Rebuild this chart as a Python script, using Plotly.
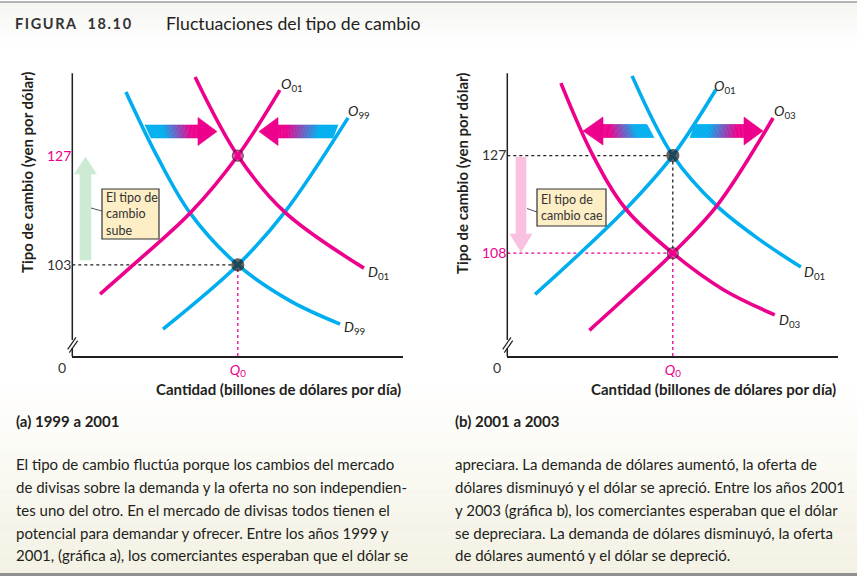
import plotly.graph_objects as go

W, H = 865, 576
BLUE = "#00aeef"
PINK = "#ec008c"
INK = "#231f20"
FONT = "Lato"

# ---------------- data (quantity index 0-100, yen per dollar) ----------------
# Panel (a) 1999 a 2001
a_D99_q = [16.2, 25.6, 35.6, 50.0, 65.8, 80.9]
a_D99_p = [141.0, 126.9, 114.4, 103.0, 95.1, 90.0]
a_O99_q = [27.4, 50.0, 64.2, 83.3]
a_O99_p = [88.9, 103.0, 114.6, 135.3]
a_O01_q = [8.4, 18.4, 35.6, 50.0, 62.7]
a_O01_p = [96.6, 103.0, 114.4, 127.0, 141.4]
a_D01_q = [37.1, 50.0, 64.2, 88.1]
a_D01_p = [144.3, 127.0, 114.6, 102.3]
a_eq_q = [50.0, 50.0]
a_eq_p = [103.0, 127.0]
a_yticks = [103, 127]
a_yrange = [83.0, 145.1]

# Panel (b) 2001 a 2003
b_D01_q = [37.7, 50.0, 63.3, 76.3, 88.7]
b_D01_p = [142.5, 127.0, 117.2, 110.6, 105.3]
b_O01_q = [8.4, 21.0, 35.8, 50.0, 63.0]
b_O01_p = [100.0, 107.4, 116.6, 127.0, 139.8]
b_D03_q = [16.2, 25.9, 35.8, 50.0, 65.3, 80.8]
b_D03_p = [141.1, 127.0, 116.6, 108.0, 100.9, 96.0]
b_O03_q = [24.8, 37.1, 50.0, 63.3, 80.3]
b_O03_p = [93.0, 100.2, 108.0, 117.2, 134.3]
b_eq_q = [50.0, 50.0]
b_eq_p = [127.0, 108.0]
b_yticks = [108, 127]
b_yrange = [88.0, 143.0]

Q0 = 50.0
xrange_ = [0, 100]

# ---------------- helpers ----------------
def P(x, y):
    return x / W, 1 - y / H

def path(pts):
    s = ""
    for i, (x, y) in enumerate(pts):
        px, py = P(x, y)
        s += ("M" if i == 0 else "L") + f"{px:.5f},{py:.5f} "
    return s + "Z"

def mix(c1, c2, t):
    return "rgb(%d,%d,%d)" % tuple(round(a + (b - a) * t) for a, b in zip(c1, c2))

RGB_B = (0, 174, 239)
RGB_P = (236, 0, 140)

shapes = []
annotations = []

def poly(pts, color, layer="above"):
    shapes.append(dict(type="path", xref="paper", yref="paper", path=path(pts),
                       fillcolor=color, line=dict(color=color, width=0.6), layer=layer))

def seg(x0, y0, x1, y1, color=INK, width=1.5, layer="above"):
    a, b = P(x0, y0)
    c, d = P(x1, y1)
    shapes.append(dict(type="line", xref="paper", yref="paper", x0=a, y0=b, x1=c, y1=d,
                       line=dict(color=color, width=width), layer=layer))

def grad_arrow(xt_top, xt_bot, x_base, x_tip, yc, sh=13, hh=28, n=40):
    ytop, ybot = yc - sh / 2, yc + sh / 2
    for i in range(n):
        t0, t1 = i / n, (i + 1) / n
        tm = (t0 + t1) / 2
        if tm < 0.3:
            c = mix(RGB_B, RGB_B, 0)
        elif tm > 0.85:
            c = mix(RGB_P, RGB_P, 0)
        else:
            c = mix(RGB_B, RGB_P, (tm - 0.3) / 0.55)
        pts = [(xt_top + (x_base - xt_top) * t0, ytop), (xt_top + (x_base - xt_top) * t1, ytop),
               (xt_bot + (x_base - xt_bot) * t1, ybot), (xt_bot + (x_base - xt_bot) * t0, ybot)]
        poly(pts, c)
    d = 1 if x_tip > x_base else -1
    poly([(x_base - d * 1, yc - hh / 2), (x_tip, yc), (x_base - d * 1, yc + hh / 2)], PINK)

def ann(text, x, y, size=13, color=INK, xanchor="left", yanchor="middle", angle=0, family=FONT, align="left"):
    px, py = P(x, y)
    annotations.append(dict(text=text, x=px, y=py, xref="paper", yref="paper", showarrow=False,
                            xanchor=xanchor, yanchor=yanchor, textangle=angle, align=align,
                            font=dict(family=family, size=size, color=color)))

# ---------------- background ----------------
N = 30
for i in range(N):
    y0 = 380 + (573 - 380) * i / N
    y1 = 380 + (573 - 380) * (i + 1) / N
    c = mix((255, 255, 255), (243, 241, 227), (i + 0.5) / N)
    a, b = P(0, y0); cc, d = P(857, y1)
    shapes.append(dict(type="rect", xref="paper", yref="paper", x0=a, y0=b, x1=cc, y1=d,
                       fillcolor=c, line=dict(width=0), layer="below"))
for i in range(10):
    y0 = 3 + 40 * i / 10
    y1 = 3 + 40 * (i + 1) / 10
    c = mix((244, 244, 240), (255, 255, 255), (i + 0.5) / 10)
    a, b = P(0, y0); cc, d = P(857, y1)
    shapes.append(dict(type="rect", xref="paper", yref="paper", x0=a, y0=b, x1=cc, y1=d,
                       fillcolor=c, line=dict(width=0), layer="below"))
seg(0, 2, 857, 2, color="#9a9a9a", width=1.5, layer="below")
a, b = P(0, 573); cc, d = P(857, 576)
shapes.append(dict(type="rect", xref="paper", yref="paper", x0=a, y0=b, x1=cc, y1=d,
                   fillcolor="#8f8f8f", line=dict(width=0), layer="below"))

# ---------------- figure ----------------
fig = go.Figure()

def curve(q, p, color, xa, ya):
    fig.add_trace(go.Scatter(x=q, y=p, mode="lines",
                             line=dict(color=color, width=3.6, shape="spline", smoothing=1.0),
                             xaxis=xa, yaxis=ya, hoverinfo="skip", showlegend=False))

def dotted(q, p, color, xa, ya):
    fig.add_trace(go.Scatter(x=q, y=p, mode="lines", line=dict(color=color, width=1.3, dash="dot"),
                             xaxis=xa, yaxis=ya, hoverinfo="skip", showlegend=False))

# Panel a
dotted([0, Q0], [a_eq_p[0], a_eq_p[0]], INK, "x", "y")
dotted([Q0, Q0], [a_yrange[0], a_eq_p[0]], PINK, "x", "y")
curve(a_D99_q, a_D99_p, BLUE, "x", "y")
curve(a_O99_q, a_O99_p, BLUE, "x", "y")
curve(a_O01_q, a_O01_p, PINK, "x", "y")
curve(a_D01_q, a_D01_p, PINK, "x", "y")
fig.add_trace(go.Scatter(x=a_eq_q, y=a_eq_p, mode="markers", xaxis="x", yaxis="y", showlegend=False,
                         hoverinfo="skip",
                         marker=dict(size=[12, 11], color=[INK, PINK], line=dict(color=INK, width=1.2))))

# Panel b
dotted([0, Q0], [b_eq_p[0], b_eq_p[0]], INK, "x2", "y2")
dotted([Q0, Q0], [b_eq_p[0], b_eq_p[1]], INK, "x2", "y2")
dotted([0, Q0], [b_eq_p[1], b_eq_p[1]], PINK, "x2", "y2")
dotted([Q0, Q0], [b_yrange[0], b_eq_p[1]], PINK, "x2", "y2")
curve(b_D01_q, b_D01_p, BLUE, "x2", "y2")
curve(b_O01_q, b_O01_p, BLUE, "x2", "y2")
curve(b_D03_q, b_D03_p, PINK, "x2", "y2")
curve(b_O03_q, b_O03_p, PINK, "x2", "y2")
fig.add_trace(go.Scatter(x=b_eq_q, y=b_eq_p, mode="markers", xaxis="x2", yaxis="y2", showlegend=False,
                         hoverinfo="skip",
                         marker=dict(size=[12, 11], color=[INK, PINK], line=dict(color=INK, width=1.2))))

# ---------------- decorations ----------------
for xa in (72.3, 507.3):
    seg(xa, 73.3, xa, 340)
    seg(xa, 348, xa, 356.5)
    seg(xa - 4.6, 349.3, xa + 3.7, 337.3, width=1.2)
    seg(xa - 3.0, 352.7, xa + 5.4, 340.7, width=1.2)

grad_arrow(145, 151, 199, 217, 131.5)
grad_arrow(338, 333, 277, 259, 131.5)
grad_arrow(647, 654, 602, 583, 131)
grad_arrow(695, 690, 745, 763, 131)

poly([(80, 260), (91, 260), (91, 174), (96.5, 174), (85.5, 157), (74.5, 174), (80, 174)], "#cdebd4")
poly([(516, 157), (526, 157), (526, 234), (532, 234), (521, 252), (510, 234), (516, 234)], "#f9c1df")

seg(91, 208, 102, 211, color="#555555", width=1)
seg(527, 208.5, 537, 212, color="#555555", width=1)
for (x0, y0, x1, y1) in [(102, 189, 159, 239), (537, 189, 606, 226)]:
    a, b = P(x0, y0); cc, d = P(x1, y1)
    shapes.append(dict(type="rect", xref="paper", yref="paper", x0=a, y0=b, x1=cc, y1=d,
                       fillcolor="#fdeec6", line=dict(color="#333333", width=1.2), layer="above"))
ann("El tipo de<br>cambio<br>sube", 104, 214, size=12.5, color="#333333")
ann("El tipo de<br>cambio cae", 539, 207.5, size=12.5, color="#333333")

lab = lambda L, s: f"<i>{L}</i><sub>{s}</sub>"
ann(lab("O", "01"), 279, 85, size=14)
ann(lab("O", "99"), 346, 111, size=14)
ann(lab("D", "01"), 366, 272, size=14)
ann(lab("D", "99"), 342, 327, size=14)
ann(lab("O", "01"), 712, 86, size=14)
ann(lab("O", "03"), 772, 112, size=14)
ann(lab("D", "01"), 802, 272, size=14)
ann(lab("D", "03"), 777, 320, size=14)

ann("0", 62, 367, size=14, color="#333333", xanchor="center")
ann("0", 497, 367, size=14, color="#333333", xanchor="center")

XT = "<b>Cantidad (billones de dólares por día)</b>"
YT = "<b>Tipo de cambio (yen por dólar)</b>"
ann(XT, 403, 389, size=15, xanchor="right")
ann(XT, 838, 389, size=15, xanchor="right")
ann(YT, 27, 173, size=15, xanchor="center", angle=-90)
ann(YT, 462, 173, size=15, xanchor="center", angle=-90)

ann("<b>(a) 1999 a 2001</b>", 14, 421, size=15)
ann("<b>(b) 2001 a 2003</b>", 453, 421, size=15)

ann("<b><span style='letter-spacing:1.6px'>FIGURA  18.10</span></b>", 13, 23, size=14.5, color="#333333")
ann("Fluctuaciones del tipo de cambio", 164, 23, size=17.7, color=INK)

left_lines = [
    "El tipo de cambio fluctúa porque los cambios del mercado",
    "de divisas sobre la demanda y la oferta no son independien-",
    "tes uno del otro. En el mercado de divisas todos tienen el",
    "potencial para demandar y ofrecer. Entre los años 1999 y",
    "2001, (gráfica a), los comerciantes esperaban que el dólar se",
]
right_lines = [
    "apreciara. La demanda de dólares aumentó, la oferta de",
    "dólares disminuyó y el dólar se apreció. Entre los años 2001",
    "y 2003 (gráfica b), los comerciantes esperaban que el dólar",
    "se depreciara. La demanda de dólares disminuyó, la oferta",
    "de dólares aumentó y el dólar se depreció.",
]
line_y = [464, 487, 510, 532.5, 555]
for t, y in zip(left_lines, line_y):
    ann(t, 14, y, size=15)
for t, y in zip(right_lines, line_y):
    ann(t, 453, y, size=15)

# ---------------- axes ----------------
def xax(x0, x1, anchor):
    return dict(domain=[x0 / W, x1 / W], range=xrange_, anchor=anchor, showgrid=False, zeroline=False,
                showline=True, linecolor=INK, linewidth=1.5, ticks="", tickvals=[Q0],
                ticktext=["<i>Q</i><sub>0</sub>"], tickfont=dict(family=FONT, size=14, color=PINK),
                fixedrange=True)

def yax(rng, ticks, pink_val, anchor):
    txt = [f"<span style='color:{PINK}'>{v}</span>" if v == pink_val else str(v) for v in ticks]
    return dict(domain=[1 - 356 / H, 1 - 73.3 / H], range=rng, anchor=anchor, showgrid=False,
                zeroline=False, showline=False, ticks="", tickvals=ticks, ticktext=txt,
                tickfont=dict(family=FONT, size=14, color="#333333"), fixedrange=True)

fig.update_layout(
    width=W, height=H, autosize=False,
    margin=dict(l=0, r=0, t=0, b=0),
    paper_bgcolor="white", plot_bgcolor="rgba(0,0,0,0)",
    showlegend=False,
    xaxis=xax(72.3, 403.3, "y"),
    yaxis=yax(a_yrange, a_yticks, 127, "x"),
    xaxis2=xax(507.3, 838.3, "y2"),
    yaxis2=yax(b_yrange, b_yticks, 108, "x2"),
    shapes=shapes,
    annotations=annotations,
    font=dict(family=FONT, color=INK),
)

fig.write_html("out.html", config={"displayModeBar": False},
               post_script="document.body.style.margin='0px';document.body.style.overflow='hidden';")
